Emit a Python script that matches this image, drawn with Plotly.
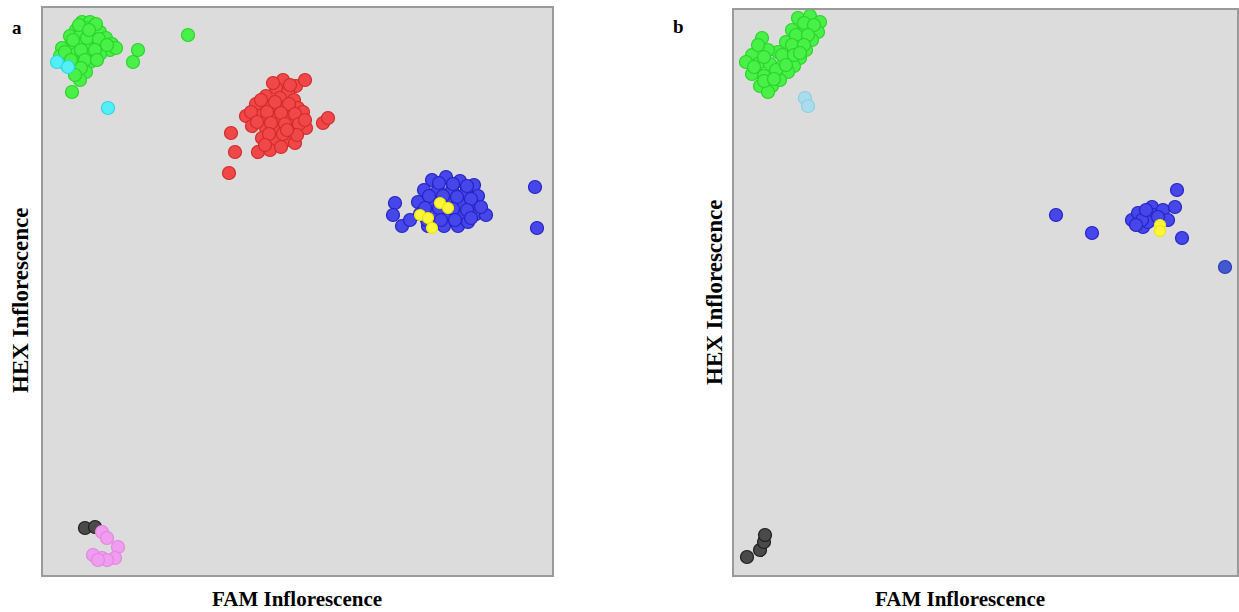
import plotly.graph_objects as go

# ---------------- Panel a (FAM / HEX fluorescence, arbitrary units) ----------------
a_green_fam = [39, 47, 43, 33, 27, 37, 49, 57, 63, 69, 67, 59, 51, 43, 35, 27, 19, 17, 25, 33, 41, 49, 57,
               23, 31, 39, 47, 35, 43, 37, 29, 90, 95, 145, 73, 53,
               36, 30, 44, 56, 22, 38, 52, 64, 28, 42, 54, 38, 32, 46]
a_green_hex = [553, 553, 547, 545, 539, 539, 541, 543, 537, 531, 525, 529, 531, 531, 531, 529, 527, 519, 519,
               521, 521, 521, 521, 511, 511, 511, 513, 503, 503, 495, 483, 513, 525, 540, 527, 551,
               550, 535, 537, 536, 523, 525, 525, 530, 515, 515, 515, 507, 500, 545]
a_cyan_fam = [14, 25, 65]
a_cyan_hex = [513, 508, 467]
a_red_fam = [240, 253, 262, 233, 245, 223, 237, 251, 213, 227, 241, 255, 203, 217, 231, 245, 257, 209, 223,
             237, 251, 263, 219, 233, 247, 215, 227, 252, 188, 192, 186, 280, 285,
             230, 247, 218, 232, 246, 260, 208, 224, 238, 252, 214, 228, 242, 256, 226, 240, 254, 222, 238,
             244, 262]
a_red_hex = [495, 489, 495, 487, 483, 479, 477, 475, 471, 469, 467, 467, 459, 459, 457, 457, 455, 449, 447,
             447, 445, 447, 437, 435, 435, 423, 425, 432, 442, 423, 402, 452, 457,
             492, 490, 475, 473, 471, 463, 463, 463, 462, 461, 453, 452, 451, 451, 441, 441, 440, 430, 428,
             445, 455]
a_blue_fam = [389, 403, 417, 431, 381, 395, 409, 423, 435, 375, 389, 403, 417, 431, 377, 391, 405, 419, 433,
              385, 401, 415, 425, 443, 352, 350, 359, 367, 492, 494,
              396, 410, 424, 386, 400, 414, 428, 382, 396, 410, 424, 438, 384, 398, 412, 428]
a_blue_hex = [395, 398, 394, 390, 385, 385, 385, 383, 379, 373, 373, 373, 371, 369, 361, 361, 361, 359, 361,
              349, 349, 349, 353, 360, 372, 360, 349, 355, 388, 347,
              392, 391, 389, 379, 379, 378, 376, 367, 367, 366, 365, 368, 355, 355, 355, 357]
a_yellow_fam = [377, 385, 389, 397, 405]
a_yellow_hex = [360, 357, 347, 372, 367]
a_black_fam = [42, 52]
a_black_hex = [47, 48]
a_pink_fam = [59, 64, 75, 72, 50, 59, 64, 55]
a_pink_hex = [43, 37, 28, 17, 20, 17, 15, 15]

# ---------------- Panel b ----------------
b_green_fam = [64, 76, 86, 71, 84, 58, 66, 78, 52, 60, 72, 44, 54, 66, 28, 34, 18, 12, 24, 36, 48, 60,
               18, 30, 42, 54, 26, 38, 34, 46,
               70, 80, 62, 74, 58, 70, 48, 60, 30, 20, 42, 30, 40, 24, 52, 66]
b_green_hex = [557, 559, 553, 547, 543, 545, 535, 535, 533, 525, 525, 523, 517, 517, 537, 525, 520, 513,
               511, 511, 509, 509, 501, 499, 501, 503, 489, 489, 483, 495,
               552, 550, 540, 540, 530, 530, 520, 520, 518, 508, 505, 494, 496, 530, 510, 522]
b_lightblue_fam = [71, 74]
b_lightblue_hex = [477, 469]
b_blue_fam = [322, 358, 398, 404, 409, 418, 419, 429, 434, 441, 443, 448, 414, 408, 424, 412, 402]
b_blue_hex = [360, 342, 355, 362, 348, 368, 360, 365, 355, 368, 385, 337, 353, 355, 358, 365, 350]
b_yellow_fam = [426, 426]
b_yellow_hex = [350, 344]
b_darkblue_fam = [491]
b_darkblue_hex = [308]
b_black_fam = [13, 26, 30, 31]
b_black_hex = [18, 25, 33, 40]

fig = go.Figure()


def add(xs, ys, color, edge, xa, ya, size=13):
    fig.add_trace(go.Scatter(
        x=xs, y=ys, mode="markers", xaxis=xa, yaxis=ya, showlegend=False, hoverinfo="skip",
        marker=dict(size=size, color=color, line=dict(color=edge, width=1.2)),
    ))


GREEN, GREEN_E = "#48f048", "#2ad42a"
RED, RED_E = "#f04848", "#d42a2a"
BLUE, BLUE_E = "#4646ea", "#2424c4"
CYAN, CYAN_E = "#55eef6", "#28d8e6"
YEL, YEL_E = "#fbf53c", "#f0e600"
BLK, BLK_E = "#4a4a4a", "#1e1e1e"
PINK, PINK_E = "#f09cf0", "#e286e2"
LBLUE, LBLUE_E = "#a9dced", "#8ccfe4"

# panel a
add(a_green_fam, a_green_hex, GREEN, GREEN_E, "x", "y")
add(a_cyan_fam, a_cyan_hex, CYAN, CYAN_E, "x", "y")
add(a_red_fam, a_red_hex, RED, RED_E, "x", "y")
add(a_blue_fam, a_blue_hex, BLUE, BLUE_E, "x", "y")
add(a_yellow_fam, a_yellow_hex, YEL, YEL_E, "x", "y", size=11)
add(a_black_fam, a_black_hex, BLK, BLK_E, "x", "y")
add(a_pink_fam, a_pink_hex, PINK, PINK_E, "x", "y")

# panel b
add(b_green_fam, b_green_hex, GREEN, GREEN_E, "x2", "y2")
add(b_lightblue_fam, b_lightblue_hex, LBLUE, LBLUE_E, "x2", "y2")
add(b_blue_fam, b_blue_hex, BLUE, BLUE_E, "x2", "y2")
add(b_yellow_fam, b_yellow_hex, YEL, YEL_E, "x2", "y2", size=11)
add(b_darkblue_fam, b_darkblue_hex, "#4257d0", "#2a3cb4", "x2", "y2")
add(b_black_fam, b_black_hex, BLK, BLK_E, "x2", "y2")

W, H = 1239, 612
axis_common = dict(showgrid=False, zeroline=False, showticklabels=False, ticks="",
                   showline=True, linecolor="#9a9a9a", linewidth=2, mirror=True, fixedrange=True)

fig.update_layout(
    width=W, height=H,
    margin=dict(l=0, r=0, t=0, b=0),
    paper_bgcolor="white",
    plot_bgcolor="#dcdcdc",
    xaxis=dict(domain=[43 / W, 552 / W], range=[0, 509], anchor="y", **axis_common),
    yaxis=dict(domain=[1 - 575 / H, 1 - 8 / H], range=[0, 567], anchor="x", **axis_common),
    xaxis2=dict(domain=[734 / W, 1237 / W], range=[0, 503], anchor="y2", **axis_common),
    yaxis2=dict(domain=[1 - 575 / H, 1 - 10 / H], range=[0, 565], anchor="x2", **axis_common),
)

serif = "Liberation Serif, Times New Roman, serif"
font_x = dict(family=serif, size=21, color="black")
font_y = dict(family=serif, size=23, color="black")
font_p = dict(family=serif, size=19, color="black")
annos = [
    dict(text="<b>FAM Inflorescence</b>", x=297 / W, y=1 - 599 / H, font=font_x),
    dict(text="<b>FAM Inflorescence</b>", x=960 / W, y=1 - 599 / H, font=font_x),
    dict(text="<b>HEX Inflorescence</b>", x=20 / W, y=1 - 301 / H, textangle=-90, font=font_y),
    dict(text="<b>HEX Inflorescence</b>", x=714 / W, y=1 - 293 / H, textangle=-90, font=font_y),
    dict(text="<b>a</b>", x=17 / W, y=1 - 28 / H, font=font_p),
    dict(text="<b>b</b>", x=678 / W, y=1 - 27 / H, font=font_p),
]
for a in annos:
    fig.add_annotation(xref="paper", yref="paper", showarrow=False, xanchor="center", yanchor="middle", **a)

fig.write_html("out.html", config={"displayModeBar": False},
               post_script="document.body.style.margin='0px';document.body.style.overflow='hidden';")
